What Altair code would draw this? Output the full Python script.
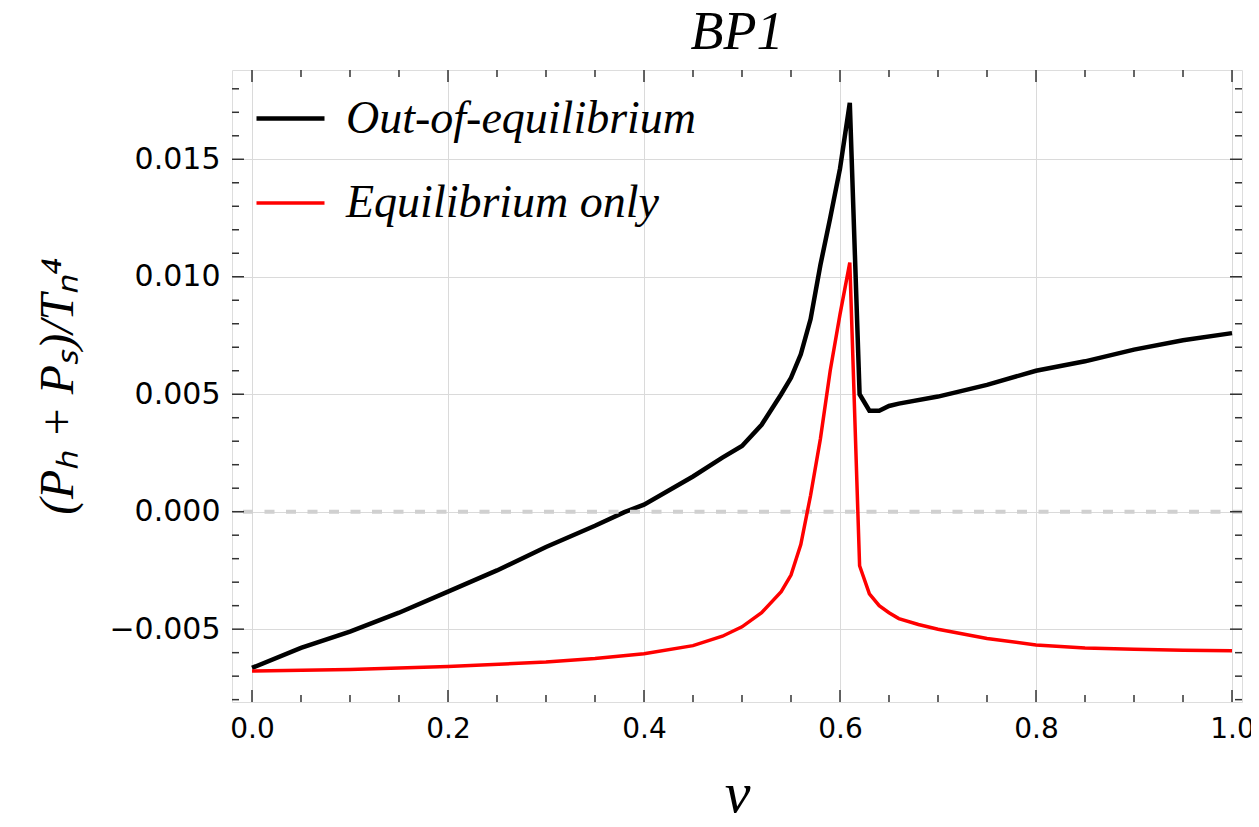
import altair as alt
import pandas as pd

# ---------------- data ----------------
series_names = ["Out-of-equilibrium", "Equilibrium only"]

v_out = [0.0, 0.05, 0.1, 0.15, 0.2, 0.25, 0.3, 0.35, 0.38, 0.4, 0.45, 0.48, 0.5,
         0.52, 0.54, 0.55, 0.56, 0.57, 0.58, 0.59, 0.60, 0.61, 0.62, 0.63, 0.64,
         0.65, 0.66, 0.7, 0.75, 0.8, 0.85, 0.9, 0.95, 1.0]
p_out = [-0.00665, -0.0058, -0.0051, -0.0043, -0.0034, -0.0025, -0.0015, -0.0006,
         -0.00002, 0.0003, 0.0015, 0.0023, 0.0028, 0.0037, 0.0050, 0.0057, 0.0067,
         0.0082, 0.0105, 0.0125, 0.0146, 0.0174, 0.0050, 0.0043, 0.0043, 0.0045,
         0.0046, 0.0049, 0.0054, 0.0060, 0.0064, 0.0069, 0.0073, 0.0076]

v_eq = [0.0, 0.1, 0.2, 0.3, 0.35, 0.4, 0.45, 0.48, 0.5, 0.52, 0.54, 0.55, 0.56,
        0.57, 0.58, 0.59, 0.60, 0.61, 0.62, 0.63, 0.64, 0.65, 0.66, 0.68, 0.7,
        0.75, 0.8, 0.85, 0.9, 0.95, 1.0]
p_eq = [-0.00678, -0.00672, -0.00659, -0.0064, -0.00625, -0.00605, -0.0057,
        -0.0053, -0.0049, -0.0043, -0.0034, -0.0027, -0.0014, 0.0007, 0.0031,
        0.0060, 0.0084, 0.0106, -0.0023, -0.0035, -0.0040, -0.0043, -0.00455,
        -0.0048, -0.0050, -0.0054, -0.00567, -0.0058, -0.00585, -0.0059, -0.00592]

x_major = [0.0, 0.2, 0.4, 0.6, 0.8, 1.0]
x_minor = [0.05, 0.1, 0.15, 0.25, 0.3, 0.35, 0.45, 0.5, 0.55, 0.65, 0.7, 0.75,
           0.85, 0.9, 0.95]
y_major = [-0.005, 0.0, 0.005, 0.010, 0.015]
y_minor = [-0.008, -0.007, -0.006, -0.004, -0.003, -0.002, -0.001, 0.001, 0.002,
           0.003, 0.004, 0.006, 0.007, 0.008, 0.009, 0.011, 0.012, 0.013, 0.014,
           0.016, 0.017, 0.018]

# ---------------- build tables ----------------
lines_df = pd.concat([
    pd.DataFrame({"v": v_out, "p": p_out, "series": series_names[0]}),
    pd.DataFrame({"v": v_eq, "p": p_eq, "series": series_names[1]}),
])

W, H = 1010, 632
MAJ, MIN = 12, 7
TICK_COLOR = "#333333"

xs = alt.Scale(domain=[-0.0204, 1.0102], nice=False, zero=False)
ys = alt.Scale(domain=[-0.0081, 0.0188], nice=False, zero=False)

x_axis = alt.Axis(values=x_major, format=".1f", grid=True, gridColor="#dadada",
                  gridWidth=1, ticks=False, domain=False,
                  labelFont="DejaVu Sans", labelFontSize=28, labelColor="black",
                  labelPadding=13, title="v", titleFont="Liberation Serif",
                  titleFontStyle="italic", titleFontWeight="normal",
                  titleFontSize=58, titleColor="black", titlePadding=22)
y_axis = alt.Axis(values=y_major, format=".3f", grid=True, gridColor="#dadada",
                  gridWidth=1, ticks=False, domain=False,
                  labelFont="DejaVu Sans", labelFontSize=30, labelColor="black",
                  labelPadding=12, title="(Pₕ + Pₛ)/Tₙ⁴",
                  titleFont="Liberation Serif", titleFontStyle="italic",
                  titleFontWeight="normal", titleFontSize=48, titleColor="black",
                  titlePadding=26)

leg = alt.Legend(title=None, orient="none", legendX=22, legendY=12,
                 symbolType="stroke", symbolSize=4624, labelFont="Liberation Serif",
                 labelFontStyle="italic", labelFontSize=46, labelColor="black",
                 labelOffset=19, rowPadding=25, padding=0, labelLimit=700)

color = alt.Color("series:N", scale=alt.Scale(domain=series_names, range=["black", "red"]),
                  legend=leg)
swidth = alt.StrokeWidth("series:N", scale=alt.Scale(domain=series_names, range=[4.5, 3.5]),
                         legend=leg)

base = alt.Chart(lines_df)

black_line = base.transform_filter(alt.datum.series == series_names[0]).mark_line(
    clip=True).encode(
    x=alt.X("v:Q", scale=xs, axis=x_axis),
    y=alt.Y("p:Q", scale=ys, axis=y_axis),
    color=color, strokeWidth=swidth)

red_line = base.transform_filter(alt.datum.series == series_names[1]).mark_line(
    clip=True).encode(
    x=alt.X("v:Q", scale=xs),
    y=alt.Y("p:Q", scale=ys),
    color=color, strokeWidth=swidth)

zero_line = alt.Chart(pd.DataFrame({"p": [0.0]})).mark_rule(
    color="#d0d0d0", strokeWidth=4, strokeDash=[10, 11.5]).encode(
    y=alt.Y("p:Q", scale=ys))


def xticks(vals, length):
    d = alt.Chart(pd.DataFrame({"v": vals}))
    bottom = d.mark_rule(color=TICK_COLOR, strokeWidth=1.5).encode(
        x=alt.X("v:Q", scale=xs), y=alt.value(H), y2=alt.value(H - length))
    top = d.mark_rule(color=TICK_COLOR, strokeWidth=1.5).encode(
        x=alt.X("v:Q", scale=xs), y=alt.value(0), y2=alt.value(length))
    return [bottom, top]


def yticks(vals, length):
    d = alt.Chart(pd.DataFrame({"p": vals}))
    left = d.mark_rule(color=TICK_COLOR, strokeWidth=1.5).encode(
        y=alt.Y("p:Q", scale=ys), x=alt.value(0), x2=alt.value(length))
    right = d.mark_rule(color=TICK_COLOR, strokeWidth=1.5).encode(
        y=alt.Y("p:Q", scale=ys), x=alt.value(W), x2=alt.value(W - length))
    return [left, right]


tick_layers = (xticks(x_major, MAJ) + xticks(x_minor, MIN)
               + yticks(y_major, MAJ) + yticks(y_minor, MIN))

chart = alt.layer(black_line, zero_line, red_line, *tick_layers).properties(
    width=W, height=H,
    title=alt.Title("BP1", font="Liberation Serif", fontStyle="italic",
                    fontWeight="normal", fontSize=54, color="black", offset=9),
    autosize=alt.AutoSizeParams(type="none"),
    padding={"left": 224, "top": 62, "right": 9, "bottom": 117},
).configure_view(stroke="#222222", strokeWidth=1.5).configure(background="white")

chart.save("out.html", embed_options={"renderer": "svg", "actions": False})
